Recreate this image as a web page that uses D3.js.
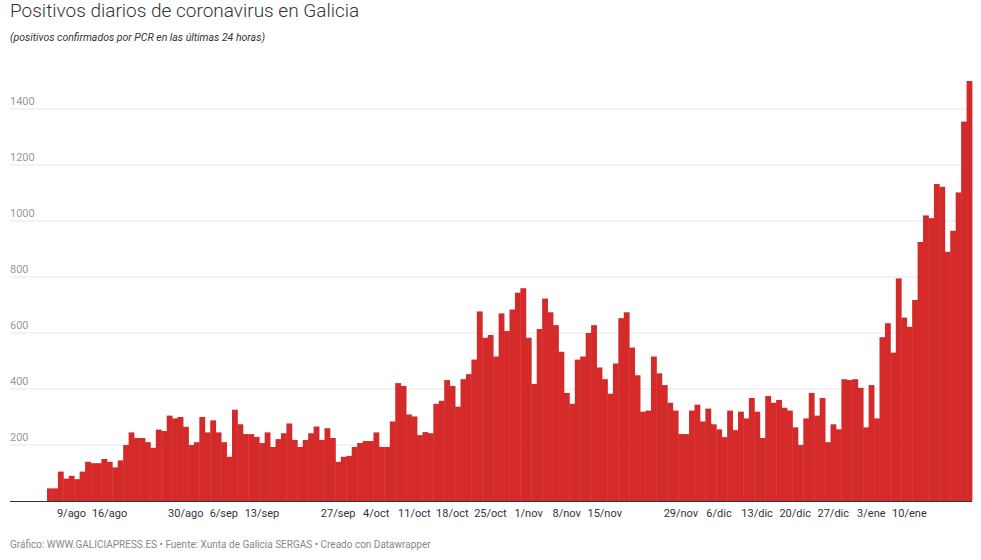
<!DOCTYPE html>
<html>
<head>
<meta charset="utf-8">
<script src="https://cdn.jsdelivr.net/npm/d3@7"></script>
<style>
  body { margin: 0; background: #fff; font-family: Roboto, "Helvetica Neue", Arial, sans-serif; }
</style>
</head>
<body>
<svg id="chart" width="981" height="560"></svg>
<script>
// Daily positives, one value per day starting 5/ago
const startDate = new Date(2020, 7, 5);
const positives = [
  45, 45, 105, 80, 90, 78, 105, 140, 135, 135, 150, 140, 120, 145, 200, 245, 225, 225, 210, 190,
  255, 250, 305, 295, 300, 265, 200, 210,
  300, 245, 288, 245, 210, 158, 326, 274, 239, 239, 229, 207, 245, 193, 221, 242, 277, 218, 193, 218,
  242, 266, 218, 260, 225, 140, 158, 161, 193, 207, 214, 214, 245, 193, 193,
  284, 421, 411, 309, 302, 235, 246, 242, 347, 358, 432, 411, 337, 435, 453, 505, 677, 583, 593, 516,
  670, 607, 684, 744, 760, 583, 418, 614, 723, 674, 628, 533, 386, 347,
  505, 516, 600, 628, 477, 435, 383, 491, 653, 674, 548, 449, 319, 323, 516, 456, 414, 351, 323, 239,
  239, 323, 344, 284, 330, 274, 256, 228, 323, 253, 319, 295, 368, 319, 225,
  375, 351, 361, 333, 323, 263, 200, 295, 386, 305, 368, 210, 274, 256, 435, 432, 435, 404, 263, 414,
  295, 585, 635, 530, 795, 655, 622, 718, 925, 1020, 1010, 1132, 1122, 890, 965, 1102, 1355, 1500
];
const tickLabels = ["9/ago", "16/ago", "30/ago", "6/sep", "13/sep", "27/sep", "4/oct", "11/oct",
  "18/oct", "25/oct", "1/nov", "8/nov", "15/nov", "29/nov", "6/dic", "13/dic", "20/dic", "27/dic",
  "3/ene", "10/ene"];
const yTicks = [200, 400, 600, 800, 1000, 1200, 1400];

const months = ["ene", "feb", "mar", "abr", "may", "jun", "jul", "ago", "sep", "oct", "nov", "dic"];
const days = positives.map((v, i) => {
  const d = d3.timeDay.offset(startDate, i);
  return { label: d.getDate() + "/" + months[d.getMonth()], value: v };
});

const svg = d3.select("#chart");
const marginLeft = 10, plotRight = 972, baseY = 501;

const x = d3.scaleBand().domain(days.map(d => d.label)).range([47, plotRight]).padding(0);
const y = d3.scaleLinear().domain([0, 1400]).range([baseY, 109]);

// Title
svg.append("text").attr("x", 10).attr("y", 17)
  .style("font-size", "19px").style("fill", "#333").style("font-weight", 300)
  .text("Positivos diarios de coronavirus en Galicia");
svg.append("text").attr("x", 10).attr("y", 41)
  .style("font-size", "10.5px").style("fill", "#333").style("font-style", "italic")
  .text("(positivos confirmados por PCR en las últimas 24 horas)");

// Gridlines and y labels
const grid = svg.append("g");
yTicks.forEach(t => {
  grid.append("line").attr("x1", marginLeft).attr("x2", plotRight)
    .attr("y1", y(t)).attr("y2", y(t))
    .attr("stroke", "#e6e6e6").attr("stroke-width", 1);
  grid.append("text").attr("x", marginLeft).attr("y", y(t) - 4)
    .style("font-size", "11px").style("fill", "#999").text(t);
});

// Bars
svg.append("g").selectAll("rect").data(days).join("rect")
  .attr("x", d => x(d.label))
  .attr("width", x.bandwidth() + 0.4)
  .attr("y", d => y(d.value))
  .attr("height", d => baseY - y(d.value))
  .attr("fill", "#d42a2a");

// Baseline
svg.append("line").attr("x1", marginLeft).attr("x2", plotRight)
  .attr("y1", baseY + 0.5).attr("y2", baseY + 0.5)
  .attr("stroke", "#333").attr("stroke-width", 1);

// X axis labels
const xAxis = d3.axisBottom(x).tickValues(tickLabels).tickSize(0).tickPadding(8);
const gx = svg.append("g").attr("transform", `translate(0,${baseY})`).call(xAxis);
gx.select(".domain").remove();
gx.selectAll("text").style("font-size", "11px").style("fill", "#333")
  .style("font-family", "Roboto, Arial, sans-serif");

// Footer
svg.append("text").attr("x", 10).attr("y", 548)
  .style("font-size", "10px").style("fill", "#888")
  .text("Gráfico: WWW.GALICIAPRESS.ES • Fuente: Xunta de Galicia SERGAS • Creado con Datawrapper");
</script>
</body>
</html>
